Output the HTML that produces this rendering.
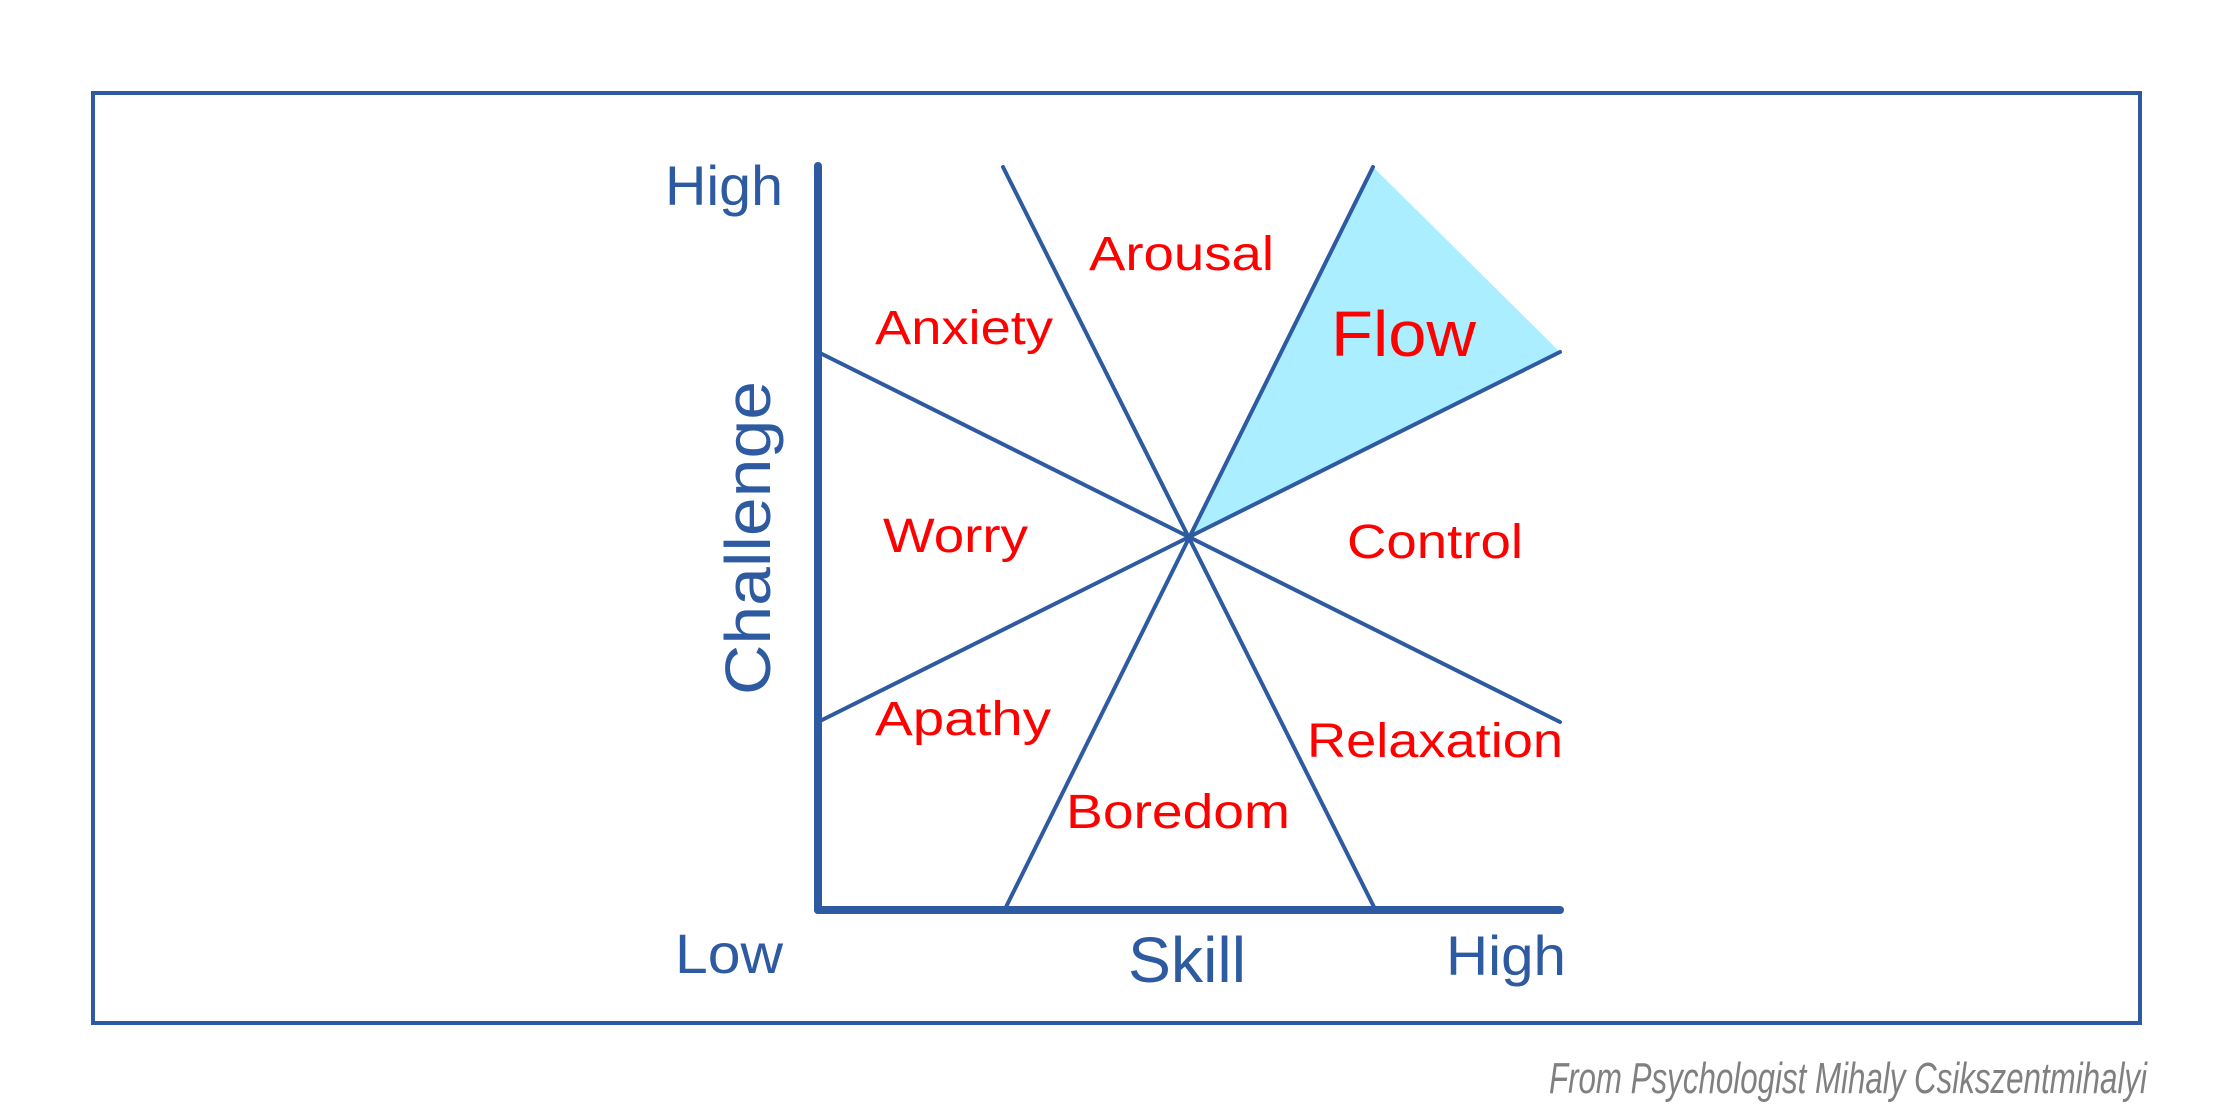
<!DOCTYPE html>
<html><head><meta charset="utf-8"><style>html,body{margin:0;padding:0;background:#fff}svg{display:block}</style></head>
<body>
<svg width="2232" height="1116" viewBox="0 0 2232 1116" xmlns="http://www.w3.org/2000/svg" font-family="Liberation Sans, sans-serif">
<rect x="93" y="93" width="2047" height="930" fill="none" stroke="#2d5aa0" stroke-width="4"/>
<polygon points="1373,167 1560,352 1190,537" fill="#aaeeff"/>
<g stroke="#2d5aa0" stroke-width="4" stroke-linecap="round">
<line x1="1003" y1="167" x2="1375" y2="909"/>
<line x1="1373" y1="167" x2="1005" y2="909"/>
<line x1="818" y1="352" x2="1560" y2="722"/>
<line x1="1560" y1="352" x2="818" y2="722"/>
</g>
<g stroke="#2d5aa0" stroke-width="8" stroke-linecap="round">
<line x1="818" y1="166" x2="818" y2="910"/>
<line x1="818" y1="910" x2="1560" y2="910"/>
</g>
<g fill="#2d5aa0">
<text x="665" y="205" font-size="56" textLength="118" lengthAdjust="spacingAndGlyphs">High</text>
<text x="675" y="973" font-size="56" textLength="108" lengthAdjust="spacingAndGlyphs">Low</text>
<text x="1446" y="975" font-size="56" textLength="120" lengthAdjust="spacingAndGlyphs">High</text>
<text x="1128" y="982" font-size="64" textLength="118" lengthAdjust="spacingAndGlyphs">Skill</text>
<text transform="translate(770,695) rotate(-90)" font-size="64" textLength="314" lengthAdjust="spacingAndGlyphs">Challenge</text>
</g>
<g fill="#ff0000" font-size="48">
<text x="1089" y="270" textLength="185" lengthAdjust="spacingAndGlyphs">Arousal</text>
<text x="875" y="344" textLength="178" lengthAdjust="spacingAndGlyphs">Anxiety</text>
<text x="1331" y="356" font-size="64" textLength="145" lengthAdjust="spacingAndGlyphs">Flow</text>
<text x="883" y="552" textLength="145" lengthAdjust="spacingAndGlyphs">Worry</text>
<text x="1347" y="558" textLength="176" lengthAdjust="spacingAndGlyphs">Control</text>
<text x="875" y="735" textLength="176" lengthAdjust="spacingAndGlyphs">Apathy</text>
<text x="1307" y="757" textLength="256" lengthAdjust="spacingAndGlyphs">Relaxation</text>
<text x="1066" y="828" textLength="224" lengthAdjust="spacingAndGlyphs">Boredom</text>
</g>
<text x="1549" y="1093" font-size="44" font-style="italic" fill="#808080" textLength="598" lengthAdjust="spacingAndGlyphs">From Psychologist Mihaly Csikszentmihalyi</text>
</svg>
</body></html>
